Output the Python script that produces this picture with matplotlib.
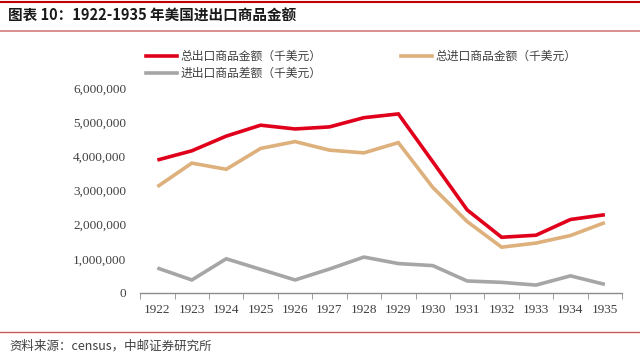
import matplotlib.pyplot as plt
from matplotlib.lines import Line2D
from matplotlib.ticker import FuncFormatter, FixedLocator

plt.rcParams["font.family"] = ["Noto Sans CJK SC", "DejaVu Sans"]

# ---------- Data ----------
years = ["1922", "1923", "1924", "1925", "1926", "1927", "1928",
         "1929", "1930", "1931", "1932", "1933", "1934", "1935"]
exports_total = [3890000, 4160000, 4590000, 4910000, 4800000, 4860000, 5130000,
                 5240000, 3840000, 2430000, 1630000, 1690000, 2150000, 2290000]
imports_total = [3110000, 3800000, 3620000, 4230000, 4430000, 4180000, 4100000,
                 4400000, 3090000, 2090000, 1340000, 1460000, 1680000, 2060000]
balance = [730000, 380000, 1000000, 690000, 380000, 700000, 1050000,
           860000, 800000, 350000, 310000, 230000, 500000, 250000]

labels = ["总出口商品金额（千美元）", "总进口商品金额（千美元）", "进出口商品差额（千美元）"]
colors = ["#E0001B", "#DDB07C", "#A6A6A6"]

# ---------- Figure ----------
fig = plt.figure(figsize=(6.4, 3.59), dpi=100)
ax = fig.add_axes([0.219, 0.184, 0.753, 0.571])

x = list(range(len(years)))
for series, color in zip([exports_total, imports_total, balance], colors):
    ax.plot(x, series, color=color, linewidth=2.6, solid_capstyle="butt",
            solid_joinstyle="miter")

ax.set_xlim(-0.5, len(years) - 0.5)
ax.set_ylim(0, 6000000)
ax.set_yticks(range(0, 6000001, 1000000))
ax.yaxis.set_major_formatter(FuncFormatter(lambda v, p: f"{int(v):,}"))

ax.set_xticks(x)
ax.set_xticklabels(years)
ax.xaxis.set_minor_locator(FixedLocator([i - 0.5 for i in range(len(years) + 1)]))
ax.tick_params(axis="x", which="major", length=0, pad=8)
ax.tick_params(axis="x", which="minor", length=4, color="#8C8C8C", direction="out")
ax.tick_params(axis="y", length=0, pad=10)
for lab in ax.get_xticklabels() + ax.get_yticklabels():
    lab.set_fontfamily("Liberation Serif")
    lab.set_fontsize(9.5)
    lab.set_color("#404040")

for s in ["top", "right", "left"]:
    ax.spines[s].set_visible(False)
ax.spines["bottom"].set_color("#8C8C8C")
ax.spines["bottom"].set_linewidth(1.0)

# ---------- Legend ----------
handles = [Line2D([0], [0], color=c, linewidth=2.6) for c in colors]
fig.legend([handles[0], handles[2]], [labels[0], labels[2]],
           loc="upper left", bbox_to_anchor=(0.212, 0.89), frameon=False,
           fontsize=8.5, handlelength=2.6, handletextpad=0.3, labelspacing=0.35,
           labelcolor="#404040")
fig.legend([handles[1]], [labels[1]],
           loc="upper left", bbox_to_anchor=(0.61, 0.89), frameon=False,
           fontsize=8.5, handlelength=2.6, handletextpad=0.3, labelcolor="#404040")

# ---------- Header / footer ----------
fig.add_artist(Line2D([0, 1], [0.994, 0.994], color="#C00000", linewidth=1.5,
                      transform=fig.transFigure))
fig.text(0.012, 0.955, "图表 10：1922-1935 年美国进出口商品金额", fontsize=10.5,
         fontweight="bold", color="#1a1a1a", va="center", ha="left")
fig.add_artist(Line2D([0, 1], [0.915, 0.915], color="#D27C7C", linewidth=1.2,
                      transform=fig.transFigure))
fig.add_artist(Line2D([0, 1], [0.075, 0.075], color="#C85A5A", linewidth=1.0,
                      transform=fig.transFigure))
fig.text(0.014, 0.036, "资料来源：census，中邮证券研究所", fontsize=9,
         color="#404040", va="center", ha="left")

fig.savefig("out.png", dpi=100)
